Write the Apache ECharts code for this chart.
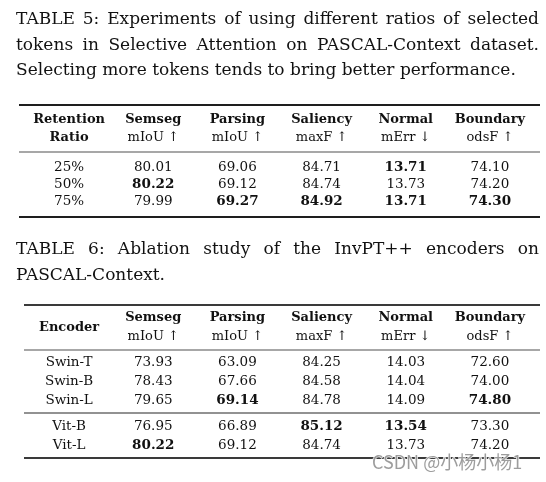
<!DOCTYPE html>
<html><head><meta charset="utf-8">
<script src="https://cdn.jsdelivr.net/npm/echarts@6/dist/echarts.min.js"></script>
<style>html,body{margin:0;padding:0;background:#fff}#c{width:546px;height:482px}</style>
</head><body><div id="c"></div>
<script>
// ---------- data ----------
const caption5 = ['TABLE 5: Experiments of using different ratios of selected',
                  'tokens in Selective Attention on PASCAL-Context dataset.',
                  'Selecting more tokens tends to bring better performance.'];
const caption6 = ['TABLE 6: Ablation study of the InvPT++ encoders on',
                  'PASCAL-Context.'];
const metricNames  = ['Semseg', 'Parsing', 'Saliency', 'Normal', 'Boundary'];
const metricUnits  = ['mIoU ↑', 'mIoU ↑', 'maxF ↑', 'mErr ↓', 'odsF ↑'];
const metricBetter = ['max', 'max', 'max', 'min', 'max'];

const t5Header = ['Retention', 'Ratio'];
const t5Ratios   = ['25%', '50%', '75%'];
const t5Semseg   = [80.01, 80.22, 79.99];
const t5Parsing  = [69.06, 69.12, 69.27];
const t5Saliency = [84.71, 84.74, 84.92];
const t5Normal   = [13.71, 13.73, 13.71];
const t5Boundary = [74.10, 74.20, 74.30];

const t6Header = 'Encoder';
const t6GroupA   = ['Swin-T', 'Swin-B', 'Swin-L'];
const t6GroupB   = ['Vit-B', 'Vit-L'];
const t6Semseg   = [73.93, 78.43, 79.65, 76.95, 80.22];
const t6Parsing  = [63.09, 67.66, 69.14, 66.89, 69.12];
const t6Saliency = [84.25, 84.58, 84.78, 85.12, 84.74];
const t6Normal   = [14.03, 14.04, 14.09, 13.54, 13.73];
const t6Boundary = [72.60, 74.00, 74.80, 73.30, 74.20];

const watermark = 'CSDN @小杨小杨1';

// ---------- style / layout ----------
const SERIF = '"DejaVu Serif", serif';
const CELL = 13.5, CAP = 17, INK = '#111111';
const colKeys = ['c0', 'c1', 'c2', 'c3', 'c4', 'c5'];

const ctx = document.createElement('canvas').getContext('2d');
function captionElems(lines, top, gapY, left, right, size) {
  const font = size + 'px ' + SERIF;
  ctx.font = font;
  const out = [];
  lines.forEach((line, i) => {
    const y = top + i * gapY;
    const st = t => ({text: t, font: font, fill: INK, align: 'left', verticalAlign: 'middle'});
    if (i === lines.length - 1) { out.push({type: 'text', x: left, y: y, style: st(line), silent: true}); return; }
    const words = line.split(' ');
    const widths = words.map(w => ctx.measureText(w).width);
    const total = widths.reduce((a, b) => a + b, 0);
    const gap = (right - left - total) / (words.length - 1);
    let x = left;
    words.forEach((w, j) => { out.push({type: 'text', x: x, y: y, style: st(w), silent: true}); x += widths[j] + gap; });
  });
  return out;
}
function rule(x1, x2, y, w, c) {
  return {type: 'line', silent: true, shape: {x1: x1, y1: y, x2: x2, y2: y}, style: {stroke: c, lineWidth: w}};
}
function bestFlags(cols) {
  return cols.map((arr, k) => {
    const b = metricBetter[k] === 'max' ? Math.max(...arr) : Math.min(...arr);
    return arr.map(v => v === b);
  });
}
function cells(rowNames, cols, flags, start) {
  const data = [];
  rowNames.forEach((name, r) => {
    data.push({value: [0, r], txt: name, bold: false});
    cols.forEach((arr, k) => {
      data.push({value: [k + 1, r], txt: arr[start + r].toFixed(2), bold: flags[k][start + r]});
    });
  });
  return data;
}
const rich = {
  h: {fontFamily: SERIF, fontSize: 13, fontWeight: 'bold', color: INK, lineHeight: 18},
  u: {fontFamily: SERIF, fontSize: 13, color: INK, lineHeight: 18},
  h6: {fontFamily: SERIF, fontSize: 13, fontWeight: 'bold', color: INK, lineHeight: 19},
  u6: {fontFamily: SERIF, fontSize: 13, color: INK, lineHeight: 19},
  e: {fontFamily: SERIF, fontSize: 13, fontWeight: 'bold', color: INK, lineHeight: 38},
  n: {fontFamily: SERIF, fontSize: CELL, color: INK},
  b: {fontFamily: SERIF, fontSize: CELL, fontWeight: 'bold', color: INK}
};
function series(data, gi) {
  return {
    type: 'scatter', xAxisIndex: gi, yAxisIndex: gi, data: data, symbolSize: 1, silent: true,
    itemStyle: {color: 'rgba(0,0,0,0)'},
    label: {show: true, position: 'inside', color: INK, textBorderWidth: 0, opacity: 1,
            formatter: p => (p.data.bold ? '{b|' : '{n|') + p.data.txt + '}', rich: rich}
  };
}
function xAxis(gi, formatter, margin) {
  return {
    type: 'category', gridIndex: gi, data: colKeys, position: 'top',
    axisLine: {show: false}, axisTick: {show: false}, splitLine: {show: false},
    axisLabel: {show: !!formatter, interval: 0, margin: margin || 0, formatter: formatter || '', rich: rich}
  };
}
function yAxis(gi, names) {
  return {type: 'category', gridIndex: gi, data: names, inverse: true, show: false};
}

const t5Cols = [t5Semseg, t5Parsing, t5Saliency, t5Normal, t5Boundary];
const t6Cols = [t6Semseg, t6Parsing, t6Saliency, t6Normal, t6Boundary];
const t5Flags = bestFlags(t5Cols), t6Flags = bestFlags(t6Cols);

const head5 = (v, i) => i === 0 ? '{h|' + t5Header[0] + '}\n{h|' + t5Header[1] + '}'
                                : '{h|' + metricNames[i - 1] + '}\n{u|' + metricUnits[i - 1] + '}';
const head6 = (v, i) => i === 0 ? '{e|' + t6Header + '}'
                                : '{h6|' + metricNames[i - 1] + '}\n{u6|' + metricUnits[i - 1] + '}';

const graphics = []
  .concat(captionElems(caption5, 20, 25.3, 16, 539, CAP))
  .concat(captionElems(caption6, 250, 26, 16, 539, CAP))
  .concat([
    rule(19, 540, 105, 2, '#1e1e1e'), rule(19, 540, 152, 1.6, '#8a8a8a'), rule(19, 540, 217, 2, '#1e1e1e'),
    rule(24, 540, 305, 2, '#3a3a3a'), rule(24, 540, 350, 1.6, '#8a8a8a'),
    rule(24, 540, 413, 1.6, '#6e6e6e'), rule(24, 540, 458, 2, '#3a3a3a'),
    {type: 'text', x: 372, y: 462, silent: true, z: 10,
     style: {text: watermark, font: '18px "Noto Sans CJK SC", sans-serif', fill: 'rgba(140,140,140,0.85)',
             stroke: 'rgba(255,255,255,0.9)', lineWidth: 1.5, align: 'left', verticalAlign: 'middle'}}
  ]);

const chart = echarts.init(document.getElementById('c'), null, {renderer: 'canvas'});
chart.setOption({
  animation: false,
  backgroundColor: '#fff',
  grid: [
    {left: 27, width: 505, top: 158.5, height: 51},
    {left: 27, width: 505, top: 352.5, height: 57},
    {left: 27, width: 505, top: 416.5, height: 38}
  ],
  xAxis: [xAxis(0, head5, 11.5), xAxis(1, head6, 6), xAxis(2, null)],
  yAxis: [yAxis(0, t5Ratios), yAxis(1, t6GroupA), yAxis(2, t6GroupB)],
  series: [
    series(cells(t5Ratios, t5Cols, t5Flags, 0), 0),
    series(cells(t6GroupA, t6Cols, t6Flags, 0), 1),
    series(cells(t6GroupB, t6Cols, t6Flags, t6GroupA.length), 2)
  ],
  graphic: graphics
});
</script></body></html>
